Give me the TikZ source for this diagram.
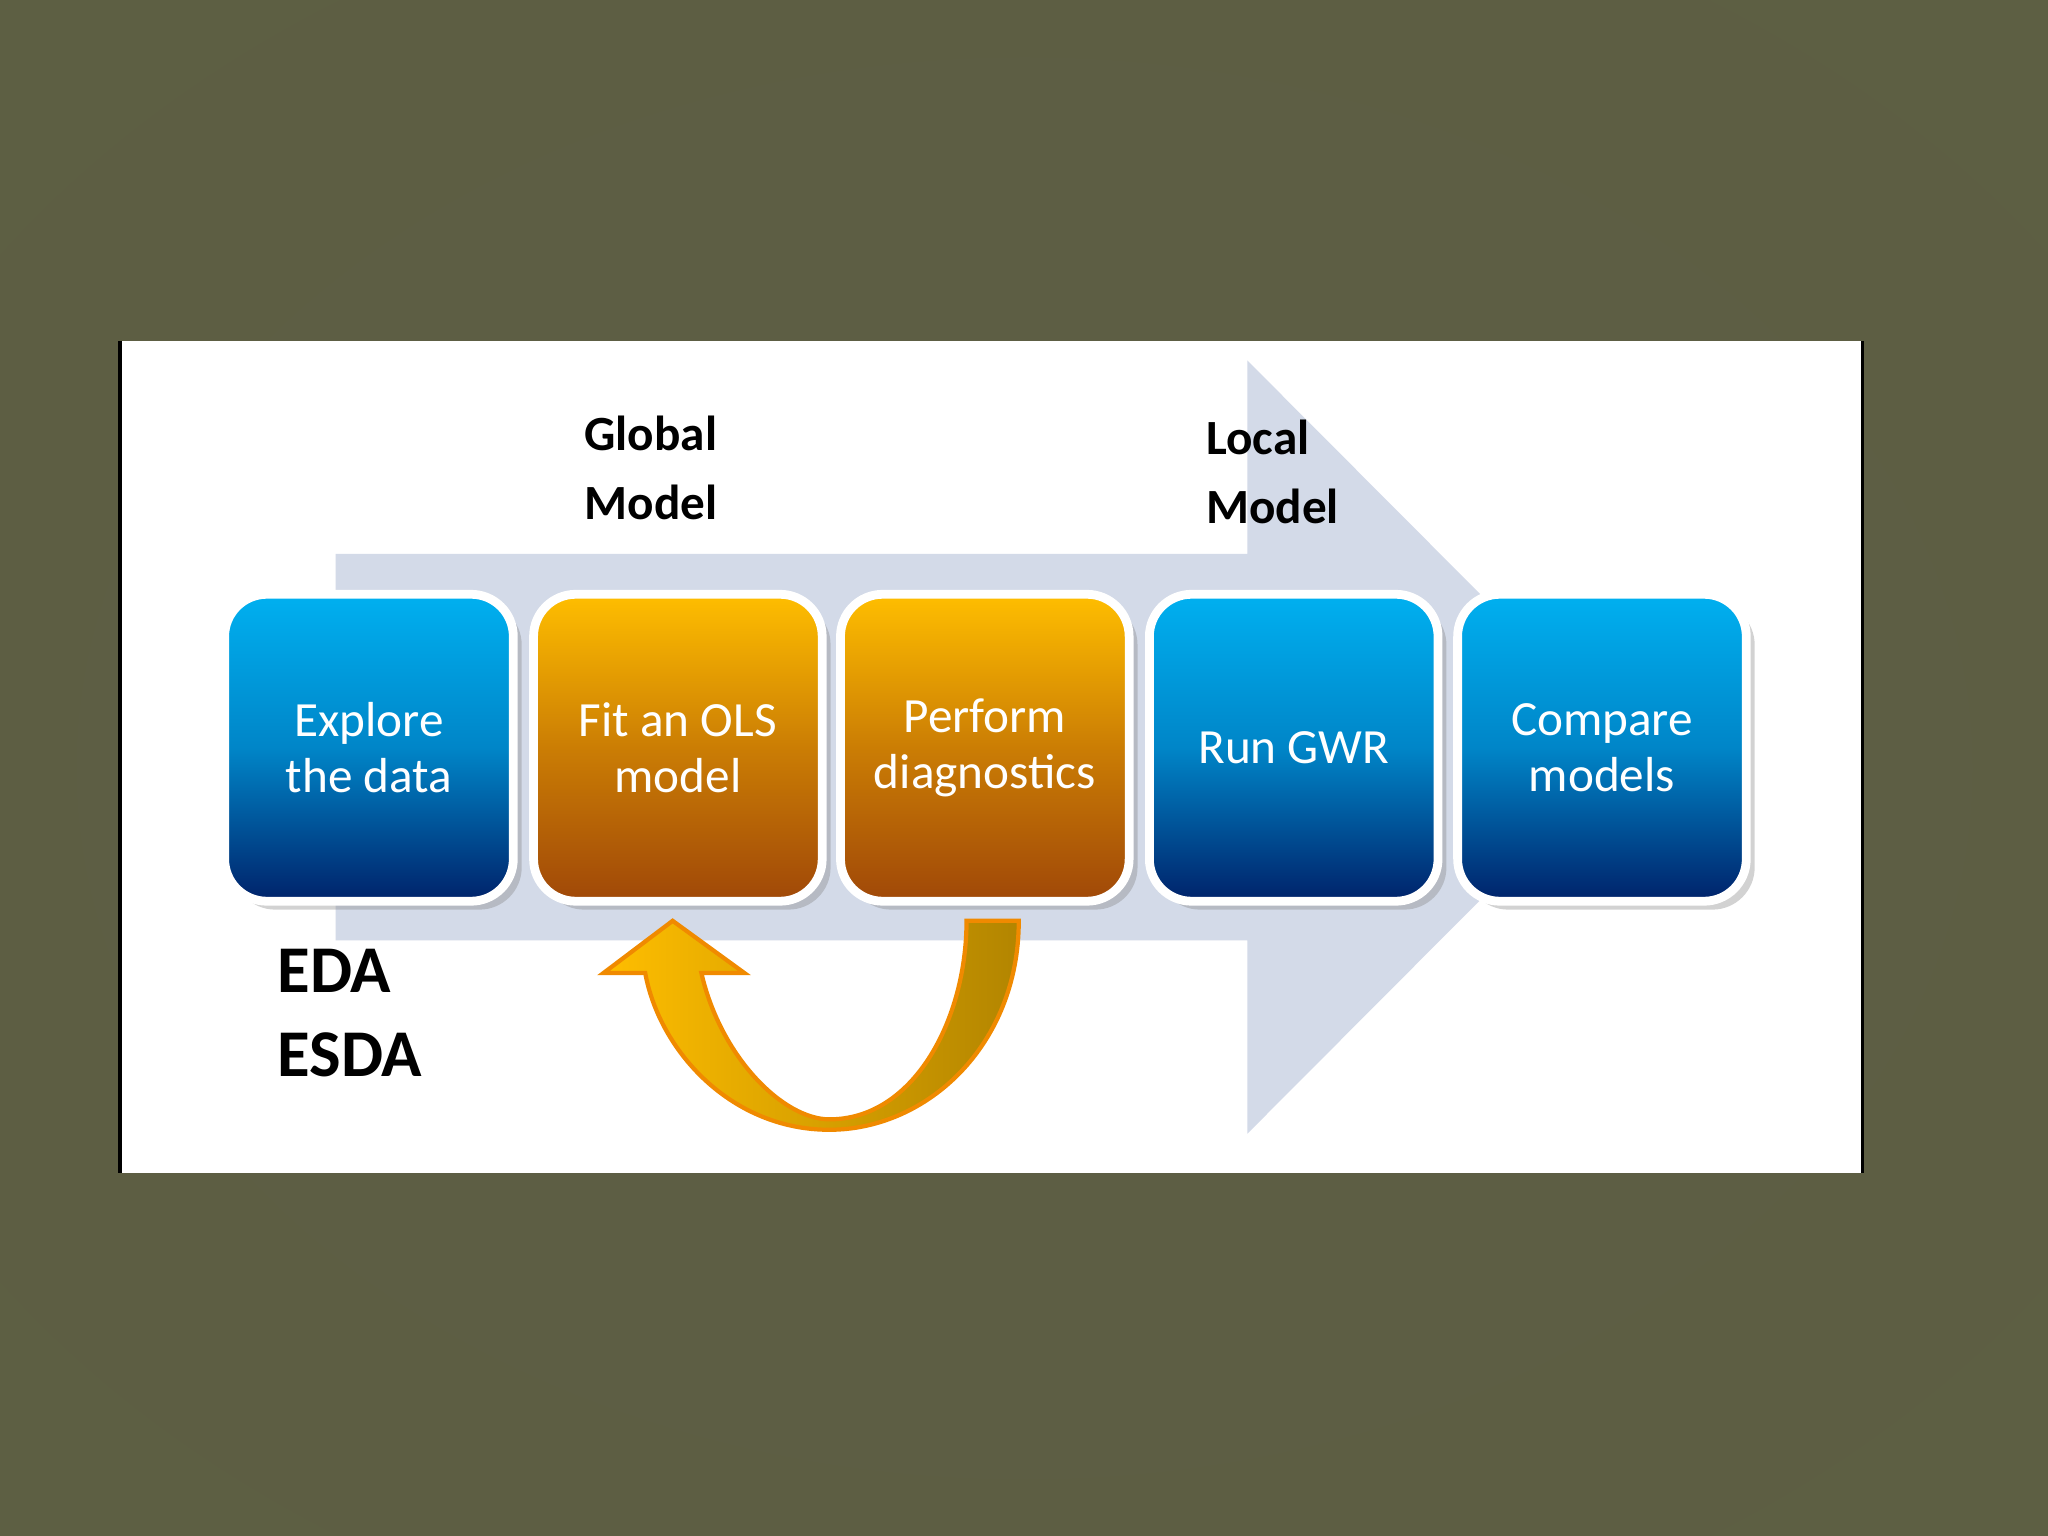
\documentclass[tikz,border=0pt]{standalone}
\usepackage{fontspec}
\setmainfont{Carlito}
\usetikzlibrary{shadows}
\definecolor{flow}{HTML}{D3DAE8}
\definecolor{btop}{HTML}{00B0F0}
\definecolor{bbot}{HTML}{00226A}
\definecolor{otop}{HTML}{FFBE00}
\definecolor{obot}{HTML}{A04808}
\definecolor{arrline}{HTML}{F08A00}
\pgfdeclareradialshading{bgshade}{\pgfpoint{0cm}{0cm}}{%
  color(0cm)=(rgb:red,0.85;green,0.86;blue,0.63);
  color(14mm)=(rgb:red,0.80;green,0.81;blue,0.57);
  color(30mm)=(rgb:red,0.66;green,0.66;blue,0.46);
  color(50mm)=(rgb:red,0.62;green,0.62;blue,0.43)}
\newlength{\px}\setlength{\px}{0.01306cm}
\tikzset{
  stepbox/.style={rounded corners=12pt, draw=white, line width=2.5pt,
    minimum width=221\px, minimum height=235\px, text=white, align=center,
    font=\fontsize{14}{16}\selectfont, drop shadow={opacity=0.35}},
  bstep/.style={stepbox, top color=btop, bottom color=bbot, middle color=btop!70!bbot},
  ostep/.style={stepbox, top color=otop, bottom color=obot, middle color=otop!45!obot},
  lbl/.style={font=\bfseries\fontsize{14}{19.5}\selectfont, align=left, anchor=north west, inner sep=0pt},
  big/.style={font=\bfseries\fontsize{19}{24}\selectfont, align=left, anchor=north west, inner sep=0pt}
}
\begin{document}
\begin{tikzpicture}[x=0.01306cm, y=-0.01306cm]
  \useasboundingbox (0,0) rectangle (1568,1176);
  % background
  \shade[shading=bgshade] (0,0) rectangle (1568,1176);
  \fill[white] (92,261) rectangle (1426,898);
  \draw[line width=1.2pt] (92,261) -- (92,898);
  \draw[line width=0.8pt] (1426,261) -- (1426,898);

  % big flow arrow
  \fill[flow] (257,424) -- (955,424) -- (955,276) -- (1250,572)
    -- (955,868) -- (955,720) -- (257,720) -- cycle;

  % steps
  \node[bstep] (explore) at (282.5,572.5) {Explore\\the data};
  \node[ostep] (ols)     at (519,572.5)   {Fit an OLS\\model};
  \node[ostep] (diag)    at (754,572.5)   {Perform\\diagnostics};
  \node[bstep] (gwr)     at (990.5,572.5) {Run GWR};
  \node[bstep] (cmp)     at (1226.5,572.5){Compare\\models};

  % labels
  \node[lbl] (global) at (447,318) {Global\\Model};
  \node[lbl] (local)  at (923,321) {Local\\Model};
  \node[big] (eda)    at (212,726) {EDA\\ESDA};

  % feedback arrow
  \shade[left color=otop, right color=otop!70!black, draw=arrline, line width=1.2pt]
    (740,705) -- (780,705)
    .. controls (780,800) and (710,865) .. (635,865)
    .. controls (560,865) and (505,805) .. (494,745)
    -- (462,745) -- (515,705) -- (570,745) -- (537,745)
    .. controls (552,810) and (600,857) .. (635,857)
    .. controls (700,857) and (740,780) .. (740,705) -- cycle;
\end{tikzpicture}
\end{document}
